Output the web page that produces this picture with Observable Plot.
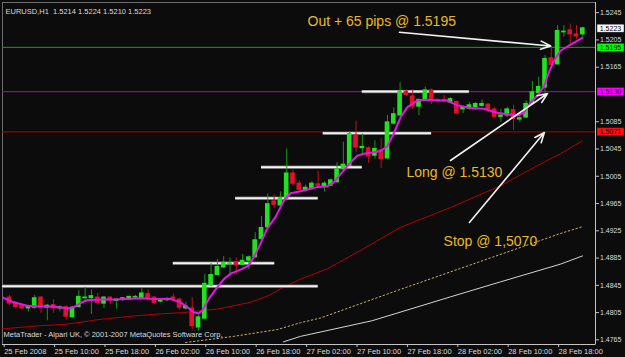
<!DOCTYPE html>
<html><head><meta charset="utf-8">
<script src="https://cdn.jsdelivr.net/npm/d3@7"></script>
<script src="https://cdn.jsdelivr.net/npm/@observablehq/plot@0.6"></script>
<style>
html,body{margin:0;padding:0;background:#0c0c0c;overflow:hidden;}
#chart svg{display:block;}
</style></head><body><div id="chart"></div>
<script>
// ---------- DATA ----------
const symbolTitle = "EURUSD,H1\u00a0\u00a01.5214 1.5224 1.5210 1.5223";
const copyright = "MetaTrader - Alpari UK, \u00a9 2001-2007 MetaQuotes Software Corp.";
const firstHour = 3; // first candle: 25 Feb 2008 03:00 (hours counted from 25 Feb 00:00)

const opens = [1.4828,1.4819,1.4816,1.4812,1.4813,1.4828,1.4813,1.4817,1.4812,1.4814,
1.4799,1.4814,1.4827,1.4827,1.4828,1.4819,1.4828,1.4823,1.4825,1.4825,
1.4828,1.4826,1.4833,1.4828,1.4822,1.4824,1.4828,1.4825,1.4812,1.4812,
1.4784,1.4797,1.4846,1.4861,1.4872,1.4877,1.4880,1.4876,1.4882,1.4887,
1.4914,1.4931,1.4969,1.4963,1.4972,1.5010,1.4995,1.4985,1.4988,1.4994,
1.4991,1.4992,1.4997,1.5016,1.5021,1.5066,1.5047,1.5047,1.5036,1.5044,
1.5032,1.5083,1.5095,1.5130,1.5123,1.5108,1.5118,1.5132,1.5118,1.5118,
1.5114,1.5115,1.5104,1.5105,1.5107,1.5109,1.5111,1.5104,1.5093,1.5095,
1.5103,1.5089,1.5092,1.5112,1.5128,1.5136,1.5179,1.5170,1.5217,1.5220,
1.5214,1.5214];
const highs = [1.4831,1.4822,1.4818,1.4817,1.4831,1.4829,1.4818,1.4825,1.4816,1.4816,
1.4815,1.4838,1.4843,1.4839,1.4834,1.4829,1.4829,1.4826,1.4828,1.4830,
1.4831,1.4841,1.4839,1.4829,1.4827,1.4828,1.4833,1.4827,1.4821,1.4828,
1.4802,1.4862,1.4878,1.4884,1.4888,1.4886,1.4886,1.4891,1.4889,1.4923,
1.4947,1.4980,1.4979,1.4983,1.5046,1.5015,1.4999,1.4993,1.4998,1.5013,
1.4998,1.5002,1.5026,1.5056,1.5071,1.5087,1.5068,1.5049,1.5058,1.5061,
1.5095,1.5106,1.5143,1.5133,1.5133,1.5119,1.5137,1.5134,1.5119,1.5124,
1.5121,1.5116,1.5108,1.5114,1.5114,1.5118,1.5112,1.5107,1.5104,1.5107,
1.5110,1.5097,1.5117,1.5145,1.5151,1.5183,1.5196,1.5227,1.5227,1.5229,
1.5227,1.5224];
const lows = [1.4816,1.4811,1.4810,1.4807,1.4811,1.4805,1.4794,1.4805,1.4807,1.4795,
1.4798,1.4813,1.4821,1.4803,1.4818,1.4812,1.4818,1.4811,1.4822,1.4824,
1.4827,1.4825,1.4824,1.4818,1.4820,1.4822,1.4822,1.4809,1.4810,1.4780,
1.4779,1.4796,1.4844,1.4860,1.4871,1.4859,1.4862,1.4875,1.4869,1.4886,
1.4912,1.4929,1.4959,1.4961,1.4970,1.4991,1.4984,1.4983,1.4985,1.4991,
1.4983,1.4991,1.4996,1.5014,1.5020,1.5040,1.5036,1.5025,1.5031,1.5017,
1.5030,1.5081,1.5093,1.5123,1.5104,1.5095,1.5117,1.5111,1.5114,1.5114,
1.5112,1.5097,1.5098,1.5103,1.5102,1.5107,1.5099,1.5092,1.5085,1.5092,
1.5073,1.5085,1.5091,1.5111,1.5127,1.5128,1.5168,1.5169,1.5210,1.5200,
1.5207,1.5210];
const closes = [1.4819,1.4814,1.4812,1.4815,1.4827,1.4813,1.4816,1.4812,1.4814,1.4800,
1.4813,1.4829,1.4828,1.4830,1.4820,1.4828,1.4824,1.4825,1.4827,1.4829,
1.4829,1.4834,1.4826,1.4820,1.4825,1.4826,1.4826,1.4813,1.4815,1.4786,
1.4799,1.4848,1.4861,1.4873,1.4879,1.4878,1.4875,1.4882,1.4887,1.4912,
1.4930,1.4965,1.4964,1.4974,1.5010,1.4995,1.4986,1.4989,1.4995,1.4992,
1.4995,1.5000,1.5016,1.5023,1.5068,1.5048,1.5049,1.5035,1.5046,1.5031,
1.5085,1.5097,1.5130,1.5125,1.5108,1.5118,1.5132,1.5117,1.5116,1.5116,
1.5119,1.5098,1.5107,1.5110,1.5112,1.5112,1.5104,1.5093,1.5095,1.5104,
1.5090,1.5091,1.5112,1.5129,1.5137,1.5178,1.5169,1.5219,1.5218,1.5214,
1.5211,1.5223];

// moving averages: [hour, price]
const maFast = [[1.9,1.4828],[3.68,1.4821],[5.81,1.4816],[7.92,1.4815],[10.03,1.4815],[12.16,1.4812],[13.21,1.4814],[14.27,1.4820],[15.33,1.4824],[17.44,1.4825],[19.56,1.4825],[21.68,1.4826],[23.79,1.4827],[25.9,1.4826],[28.56,1.4826],[30.14,1.4821],[31.21,1.4814],[32.27,1.4806],[33.05,1.4805],[33.59,1.4809],[34.63,1.4826],[35.97,1.4843],[37.02,1.4855],[38.08,1.4863],[39.67,1.4869],[40.98,1.4875],[41.78,1.4887],[42.84,1.4907],[43.9,1.4929],[45.22,1.4946],[46.54,1.4970],[47.6,1.4981],[49.19,1.4984],[51.84,1.4990],[53.43,1.4991],[54.48,1.4997],[55.81,1.5012],[57.13,1.5026],[58.19,1.5036],[59.24,1.5039],[60.83,1.5041],[61.89,1.5043],[62.95,1.5050],[64.0,1.5069],[65.06,1.5092],[66.13,1.5107],[67.71,1.5117],[69.3,1.5118],[70.89,1.5117],[72.48,1.5117],[74.06,1.5110],[76.17,1.5106],[78.29,1.5105],[80.41,1.5099],[82.0,1.5097],[83.59,1.5095],[84.63,1.5099],[85.7,1.5114],[86.76,1.5124],[87.81,1.5137],[88.6,1.5158],[89.4,1.5175],[90.46,1.5190],[92.05,1.5199],[93.95,1.5209]];
const maMid = [[1.9,1.4782],[6.86,1.4786],[12.16,1.4789],[17.44,1.4796],[22.73,1.4801],[26.97,1.4804],[30.67,1.4806],[35.97,1.4811],[41.25,1.4821],[43.9,1.4830],[46.54,1.4843],[49.19,1.4855],[53.43,1.4870],[58.71,1.4897],[65.06,1.4931],[73.0,1.4960],[80.94,1.4992],[87.29,1.5024],[90.46,1.5039],[93.95,1.5058]];
const maSlowA = [[30.94,1.4762],[38.56,1.4771],[45.49,1.4781],[49.19,1.4791],[52.37,1.4798],[65.06,1.4840],[77.76,1.4881],[90.46,1.4922],[93.95,1.4932]];
const maSlowB = [[46.49,1.4763],[49.19,1.4771],[60.57,1.4794],[73.0,1.4829],[80.94,1.4851],[90.46,1.4877],[93.95,1.4889]];

const levelPrices = [1.5195, 1.5130, 1.5071];
const currentPrice = 1.5223;

const supportStart = [1.9, 29.0, 38.9, 43.0, 52.8, 59.0];
const supportEnd   = [52.0, 45.1, 52.0, 59.0, 70.0, 76.0];
const supportPrice = [1.48446, 1.48784, 1.49737, 1.50192, 1.5069, 1.51302];

const noteLabels = ["Out + 65 pips @ 1.5195", "Long @ 1.5130", "Stop @ 1,5070"];
const noteHour   = [50.3, 66.0, 71.9];
const notePrice  = [1.52336, 1.50107, 1.49102];

const arrowFromHour  = [64.9, 73.0, 76.0];
const arrowFromPrice = [1.52172, 1.5029, 1.49381];
const arrowToHour    = [88.9, 88.4, 87.9];
const arrowToPrice   = [1.51969, 1.51273, 1.50701];

const xTickHours = [2, 10, 18, 26, 34, 42, 50, 58, 66, 74, 82, 90];
const xTickLabels = ["25 Feb 2008","25 Feb 10:00","25 Feb 18:00","26 Feb 02:00","26 Feb 10:00","26 Feb 18:00","27 Feb 02:00","27 Feb 10:00","27 Feb 18:00","28 Feb 02:00","28 Feb 10:00","28 Feb 18:00"];
// price scale ticks (1.5125 sits under the 1.5130 marker box in the reference, so it is not labelled)
const yTicks = [1.4765,1.4805,1.4845,1.4885,1.4925,1.4965,1.5005,1.5045,1.5085,1.5165,1.5205,1.5245];

const xDomain = [1.889, 96.016];
const yDomain = [1.47591, 1.52608];

// ---------- BUILD ----------
const candles = opens.map((o, i) => ({h: firstHour + i, open: o, high: highs[i], low: lows[i], close: closes[i], up: closes[i] >= o}));
const supports = supportPrice.map((p, i) => ({h1: supportStart[i], h2: supportEnd[i], p}));
const notes = noteLabels.map((t, i) => ({t, h: noteHour[i], p: notePrice[i]}));
const arrows = arrowFromHour.map((h, i) => ({x1: h, y1: arrowFromPrice[i], x2: arrowToHour[i], y2: arrowToPrice[i]}));
const levelColors = ["#00b000", "#bc00bc", "#b00000"];
const levels = levelPrices.map((p, i) => ({p, c: levelColors[i]}));

const FONT = "'Liberation Sans', Arial, sans-serif";
const TXT = "#dcdcdc";
const bodyUp = "#22e022", bodyDn = "#e2102c", wickUp = "#109a10", wickDn = "#c0101e";
const halfW = 0.37;

const chart = Plot.plot({
  width: 625, height: 357,
  marginLeft: 2, marginRight: 30, marginTop: 2, marginBottom: 13,
  style: {background: "#0c0c0c", color: TXT, fontFamily: FONT, fontSize: "7.5px"},
  x: {type: "linear", domain: xDomain},
  y: {type: "linear", domain: yDomain},
  marks: [
    Plot.frame({stroke: "#6e6e6e"}),
    Plot.ruleY(levels, {y: "p", stroke: "c", strokeWidth: 1}),
    Plot.line(maSlowA, {x: d => d[0], y: d => d[1], stroke: "#c8b46a", strokeWidth: 1, strokeDasharray: "1.5,2.5", clip: true}),
    Plot.line(maSlowB, {x: d => d[0], y: d => d[1], stroke: "#d4d4d4", strokeWidth: 1, clip: true}),
    Plot.line(maMid, {x: d => d[0], y: d => d[1], stroke: "#b40000", strokeWidth: 1, clip: true}),
    Plot.ruleY(supports, {y: "p", x1: "h1", x2: "h2", stroke: "#6a6a6a", strokeWidth: 3.2}),
    Plot.ruleY(supports, {y: "p", x1: "h1", x2: "h2", stroke: "#f4f4f4", strokeWidth: 2}),
    Plot.ruleX(candles, {x: "h", y1: "low", y2: "high", stroke: d => d.up ? wickUp : wickDn, strokeWidth: 1}),
    Plot.rect(candles, {x1: d => d.h - halfW, x2: d => d.h + halfW, y1: "open", y2: "close", fill: d => d.up ? bodyUp : bodyDn, insetTop: -0.5, insetBottom: -0.5}),
    Plot.line(maFast, {x: d => d[0], y: d => d[1], stroke: "#e614e6", strokeWidth: 2, clip: true}),
    Plot.arrow(arrows, {x1: "x1", y1: "y1", x2: "x2", y2: "y2", stroke: "#f2f2f2", strokeWidth: 1.6, headLength: 10, headAngle: 45}),
    Plot.text(notes, {x: "h", y: "p", text: "t", textAnchor: "start", fill: "#ebbb1e", fontSize: 14, fontFamily: FONT}),
    Plot.ruleX([xDomain[1]], {stroke: "#c4c4c4"}),
    Plot.ruleY([yDomain[0]], {stroke: "#c4c4c4"}),
    Plot.axisX(xTickHours, {anchor: "bottom", tickSize: 3, tickPadding: 1, textAnchor: "start", dx: 1,
      tickFormat: d => xTickLabels[xTickHours.indexOf(d)], fill: TXT, stroke: "#c4c4c4", fontSize: 7.5, label: null}),
    Plot.axisY(yTicks, {anchor: "right", tickSize: 3, tickPadding: 1.5, tickFormat: d3.format(".4f"),
      fill: TXT, stroke: "#c4c4c4", fontSize: 7, dy: -0.6, label: null}),
    Plot.text([symbolTitle], {text: d => d, frameAnchor: "top-left", dx: 3, dy: 6, textAnchor: "start", fill: TXT, fontSize: 7.5}),
    Plot.text([copyright], {text: d => d, frameAnchor: "bottom-left", dx: 1, dy: -7.3, textAnchor: "start", fill: TXT, fontSize: 7.5})
  ]
});

// price marker boxes on the right axis, placed through the chart's scales
const ys = chart.scale("y"), xs = chart.scale("x");
const svg = d3.select(chart);
const boxX = xs.apply(xDomain[1]) + 2;
const markers = [{p: currentPrice, fill: "#ffffff"}, {p: levelPrices[0], fill: "#00ff00"}, {p: levelPrices[1], fill: "#ff00ff"}, {p: levelPrices[2], fill: "#ff1010"}];
const g = svg.append("g");
markers.forEach(m => {
  const yy = ys.apply(m.p);
  g.append("rect").attr("x", boxX).attr("y", yy - 3.6).attr("width", 27).attr("height", 8)
    .attr("fill", m.fill).attr("stroke", "#202020").attr("stroke-width", 0.5);
  g.append("text").attr("x", boxX + 13.5).attr("y", yy + 0.4).attr("dy", "0.35em")
    .attr("text-anchor", "middle").attr("fill", "#000").attr("font-size", 7)
    .attr("font-family", FONT).text(d3.format(".4f")(m.p));
});

document.getElementById("chart").appendChild(chart);
</script>
</body></html>
